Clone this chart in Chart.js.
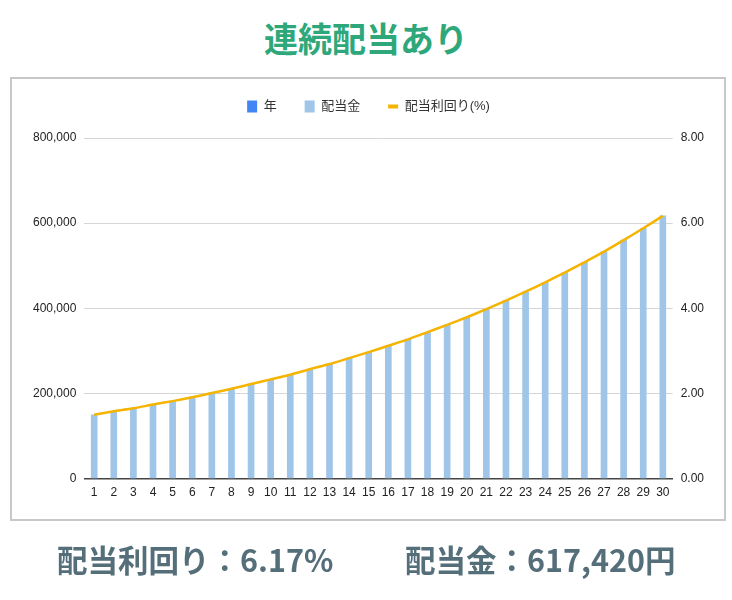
<!DOCTYPE html>
<html>
<head>
<meta charset="utf-8">
<script src="https://cdn.jsdelivr.net/npm/chart.js@4"></script>
<style>
  body { margin: 0; width: 732px; height: 600px; position: relative; background: #fff; font-family: 'Noto Sans CJK JP', sans-serif; overflow: hidden; }
  .title { position: absolute; left: 0; top: 18px; width: 732px; text-align: center; font-size: 34px; line-height: 40px; font-weight: 700; color: #2ea87a; }
  .frame { position: absolute; left: 10px; top: 77px; width: 716px; height: 444px; box-sizing: border-box; border: 2px solid #c8c8c8; }
  .wrap { position: absolute; left: 0; top: 0; width: 732px; height: 600px; }
  .foot { position: absolute; top: 539px; font-size: 30.5px; line-height: 40px; font-weight: 700; color: #546e7a; white-space: nowrap; }
</style>
</head>
<body>
<div class="title">連続配当あり</div>
<div class="frame"></div>
<div class="wrap"><canvas id="myChart"></canvas></div>
<div class="foot" style="left:57px">配当利回り：6.17%</div>
<div class="foot" style="left:405px">配当金：617,420円</div>
<script>
const years = ['1', '2', '3', '4', '5', '6', '7', '8', '9', '10',
    '11', '12', '13', '14', '15', '16', '17', '18', '19', '20',
    '21', '22', '23', '24', '25', '26', '27', '28', '29', '30'];
const dividends = [150000, 157500, 165375, 173644, 182326, 191442, 201014, 211065, 221618, 232699,
    244334, 256551, 269378, 282847, 296990, 311839, 327431, 343803, 360993, 379043,
    397995, 417895, 438790, 460729, 483766, 507954, 533352, 560019, 588020, 617420];
const yields = [1.50, 1.58, 1.65, 1.74, 1.82, 1.91, 2.01, 2.11, 2.22, 2.33,
    2.44, 2.57, 2.69, 2.83, 2.97, 3.12, 3.27, 3.44, 3.61, 3.79,
    3.98, 4.18, 4.39, 4.61, 4.84, 5.08, 5.33, 5.60, 5.88, 6.17];
const legendNames = ['年', '配当金', '配当利回り(%)'];
const legendColors = ['#4285f4', '#9fc5e8', '#f5b400'];

const tickFont = { family: "'Liberation Sans', Arial, sans-serif", size: 12 };

// push the plot down a bit below the legend
const legendSpacer = {
    id: 'legendSpacer',
    beforeInit(chart) {
        const origFit = chart.legend.fit;
        chart.legend.fit = function () {
            origFit.call(this);
            this.height += 15;
        };
    }
};

const config = {
    type: 'bar',
    data: {
        labels: years,
        datasets: [
            {
                type: 'line',
                label: legendNames[2],
                data: yields,
                yAxisID: 'y1',
                borderColor: legendColors[2],
                backgroundColor: legendColors[2],
                borderWidth: 2.5,
                pointRadius: 0,
                tension: 0.2,
                order: 0
            },
            {
                label: legendNames[1],
                data: dividends,
                yAxisID: 'y',
                backgroundColor: legendColors[1],
                barThickness: 6,
                order: 1
            }
        ]
    },
    options: {
        responsive: true,
        maintainAspectRatio: false,
        animation: false,
        layout: { padding: { left: 25, right: 20, top: 72, bottom: 93 } },
        plugins: {
            tooltip: { enabled: false },
            legend: {
                position: 'top',
                labels: {
                    usePointStyle: true,
                    pointStyleWidth: 10,
                    boxHeight: 12,
                    padding: 28,
                    color: '#333',
                    font: { family: "'Liberation Sans', 'Noto Sans CJK JP', sans-serif", size: 13 },
                    generateLabels: () => legendNames.map((text, i) => ({
                        text: text,
                        fillStyle: legendColors[i],
                        strokeStyle: legendColors[i],
                        lineWidth: i === 2 ? 4 : 0,
                        pointStyle: i === 2 ? 'line' : 'rect',
                        hidden: false,
                        fontColor: '#333'
                    }))
                }
            }
        },
        scales: {
            x: {
                grid: { display: false, drawTicks: false },
                border: { display: true, color: '#444', width: 1.5 },
                ticks: { color: '#222', font: tickFont, padding: 7, autoSkip: false, maxRotation: 0 }
            },
            y: {
                position: 'left',
                min: 0,
                max: 800000,
                grid: { color: '#d6d6d6', drawTicks: false },
                border: { display: false },
                ticks: {
                    stepSize: 200000,
                    padding: 8,
                    color: '#222',
                    font: tickFont,
                    callback: v => v.toLocaleString('en-US')
                }
            },
            y1: {
                position: 'right',
                min: 0,
                max: 8,
                grid: { drawOnChartArea: false, drawTicks: false },
                border: { display: false },
                ticks: {
                    stepSize: 2,
                    padding: 8,
                    color: '#222',
                    font: tickFont,
                    callback: v => v.toFixed(2)
                }
            }
        }
    },
    plugins: [legendSpacer]
};

new Chart(document.getElementById('myChart'), config);
</script>
</body>
</html>
